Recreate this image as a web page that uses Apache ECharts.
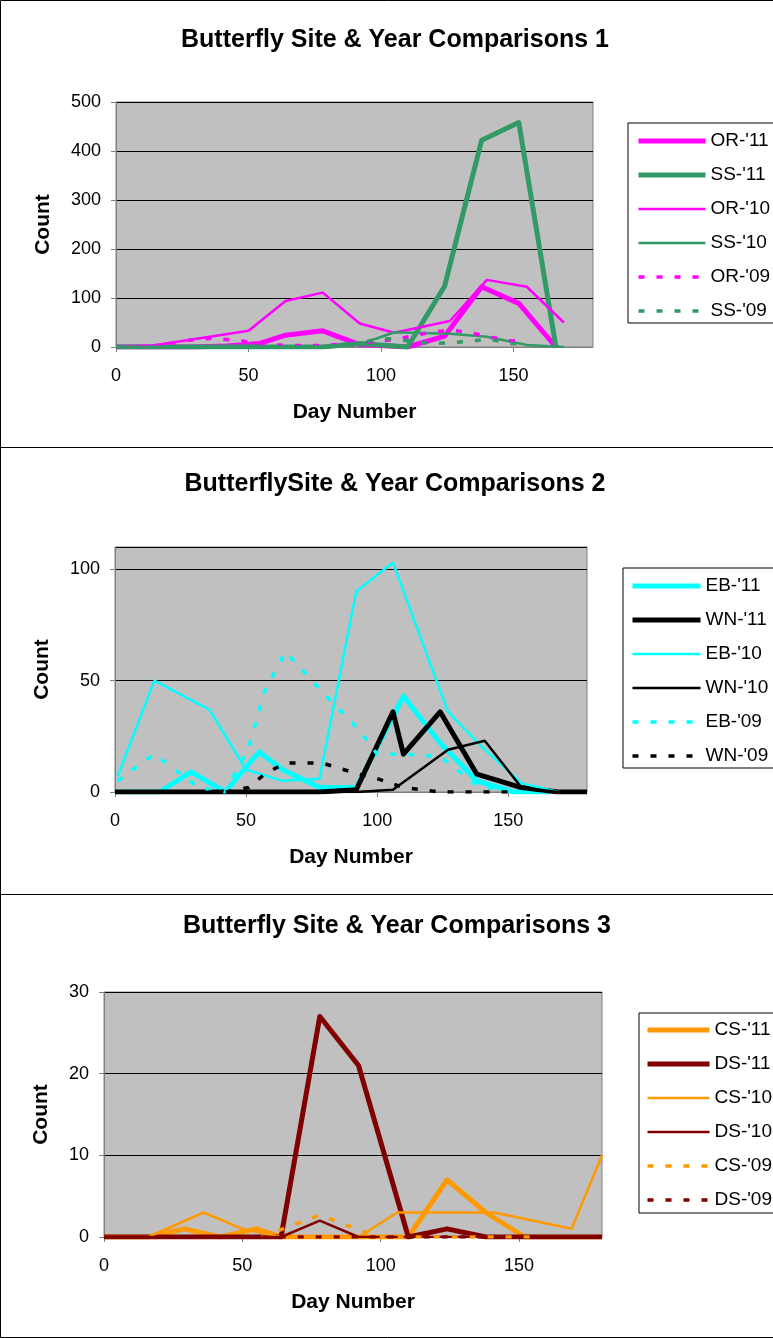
<!DOCTYPE html>
<html><head><meta charset="utf-8">
<script src="https://cdn.jsdelivr.net/npm/echarts@6/dist/echarts.min.js"></script>
<style>html,body{margin:0;padding:0;background:#fff}#c{width:773px;height:1338px}</style>
</head><body><div id="c"></div>
<script>
// ---------- Panel 1 data ----------
var p1Days11 = [0, 14, 28, 42, 54, 64, 78, 92, 110, 124, 138, 152, 166];
var p1OR11   = [0, 0, 0, 2, 7, 24, 33, 5, 0, 22, 123, 89, 0];
var p1SS11   = [0, 0, 0, 0, 0, 0, 0, 7, 0, 124, 422, 458, 0];
var p1Days10 = [0, 14, 50, 64, 78, 92, 105, 126, 140, 155, 169];
var p1OR10   = [0, 3, 33, 94, 111, 48, 29, 53, 137, 123, 50];
var p1SS10   = [0, 0, 0, 0, 0, 5, 30, 27, 21, 4, 0];
var p1Days09 = [0, 14, 28, 36, 46, 56, 64, 78, 92, 99, 106, 113, 120, 127, 134, 141, 148, 155];
var p1OR09   = [0, 2, 14, 18, 13, 6, 3, 3, 8, 12, 16, 24, 31, 34, 29, 20, 13, 11];
var p1SS09   = [0, 0, 0, 0, 0, 0, 0, 0, 8, 17, 16, 10, 7, 9, 12, 16, 8, 4];
// ---------- Panel 2 data ----------
var p2DaysEB11 = [0, 17, 29, 42, 55, 64, 78, 92, 110, 124, 138, 152, 166];
var p2EB11     = [0, 0, 9, 0, 18, 10, 2, 2, 43, 22, 5, 0, 0];
var p2DaysWN11 = [0, 17, 29, 42, 55, 64, 78, 92, 106, 110, 124, 138, 155, 169, 180];
var p2WN11     = [0, 0, 0, 0, 0, 0, 0, 1, 36, 17, 36, 8, 2, 0, 0];
var p2Days10   = [1, 15, 36, 50, 64, 78, 92, 106, 127, 141, 155, 169];
var p2EB10     = [7, 50, 37, 10, 5, 6, 90, 103, 36, 19, 4, 0];
var p2WN10     = [0, 0, 0, 0, 0, 0, 0, 1, 19, 23, 2, 0];
var p2Days09   = [1, 15, 32, 42, 51, 57, 65, 79, 93, 100, 110, 124, 138, 152];
var p2EB09     = [5, 17, 2, 0, 20, 45, 63, 45, 28, 17, 17, 16, 3, 0];
var p2WN09     = [0, 0, 0, 0, 2, 8, 13, 13, 8, 6, 2, 0, 0, 0];
// ---------- Panel 3 data ----------
var p3Days11 = [0, 16, 29, 42, 55, 64, 78, 92, 110, 124, 138, 152, 166, 180];
var p3CS11   = [0, 0, 1, 0, 1, 0, 0, 0, 0, 7, 3, 0, 0, 0];
var p3DS11   = [0, 0, 0, 0, 0, 0, 27, 21, 0, 1, 0, 0, 0, 0];
var p3Days10 = [0, 16, 36, 50, 64, 78, 92, 106, 124, 141, 169, 180];
var p3CS10   = [0, 0, 3, 1, 0, 0, 0, 3, 3, 3, 1, 10];
var p3DS10   = [0, 0, 0, 0, 0, 2, 0, 0, 0, 0, 0, 0];
var p3Days09 = [57, 78, 99, 120, 141, 155];
var p3CS09   = [0, 2.7, 0, 0, 0, 0];
var p3DS09   = [0, 0, 0, 0, 0, 0];

var titles = ["Butterfly Site & Year Comparisons 1", "ButterflySite & Year Comparisons 2", "Butterfly Site & Year Comparisons 3"];
var xTicks = [0, 50, 100, 150];

var FONT = "'Liberation Sans', Arial, sans-serif";
var MAG = '#FF00FF', GRN = '#339966', CYA = '#00FFFF', BLK = '#000000', ORG = '#FF9900', DRD = '#800000';
var STY = {
  thick: {width: 5, type: 'solid'},
  thin: {width: 2.5, type: 'solid'},
  dash: {width: 3.5, type: [6, 12]}
};
function pairs(d, v) { return d.map(function (x, i) { return [x, v[i]]; }); }
function mk(name, d, v, color, kind, gi) {
  return {
    name: name, type: 'line', xAxisIndex: gi, yAxisIndex: gi,
    data: pairs(d, v), symbol: 'none', showSymbol: false,
    lineStyle: {color: color, width: STY[kind].width, type: STY[kind].type, cap: 'butt', join: 'round'},
    itemStyle: {color: color},
    emphasis: {disabled: true}, animation: false
  };
}
var series = [
  mk("OR-'11", p1Days11, p1OR11, MAG, 'thick', 0),
  mk("SS-'11", p1Days11, p1SS11, GRN, 'thick', 0),
  mk("OR-'10", p1Days10, p1OR10, MAG, 'thin', 0),
  mk("SS-'10", p1Days10, p1SS10, GRN, 'thin', 0),
  mk("OR-'09", p1Days09, p1OR09, MAG, 'dash', 0),
  mk("SS-'09", p1Days09, p1SS09, GRN, 'dash', 0),
  mk("EB-'11", p2DaysEB11, p2EB11, CYA, 'thick', 1),
  mk("WN-'11", p2DaysWN11, p2WN11, BLK, 'thick', 1),
  mk("EB-'10", p2Days10, p2EB10, CYA, 'thin', 1),
  mk("WN-'10", p2Days10, p2WN10, BLK, 'thin', 1),
  mk("EB-'09", p2Days09, p2EB09, CYA, 'dash', 1),
  mk("WN-'09", p2Days09, p2WN09, BLK, 'dash', 1),
  mk("CS-'11", p3Days11, p3CS11, ORG, 'thick', 2),
  mk("DS-'11", p3Days11, p3DS11, DRD, 'thick', 2),
  mk("CS-'10", p3Days10, p3CS10, ORG, 'thin', 2),
  mk("DS-'10", p3Days10, p3DS10, DRD, 'thin', 2),
  mk("CS-'09", p3Days09, p3CS09, ORG, 'dash', 2),
  mk("DS-'09", p3Days09, p3DS09, DRD, 'dash', 2)
];

var grids = [
  {left: 116, top: 102, width: 477, height: 245},
  {left: 115, top: 547, width: 472, height: 245},
  {left: 104, top: 992, width: 498, height: 245}
];
var yCfg = [{max: 500, interval: 100}, {max: 110, interval: 50}, {max: 30, interval: 10}];

var option = {
  animation: false,
  backgroundColor: '#ffffff',
  grid: grids.map(function (g) {
    return Object.assign({show: true, backgroundColor: '#C0C0C0', borderColor: '#808080', borderWidth: 1, containLabel: false}, g);
  }),
  xAxis: grids.map(function (g, i) {
    return {
      type: 'value', gridIndex: i, min: 0, max: 180, interval: 50,
      name: 'Day Number', nameLocation: 'middle', nameGap: 55,
      nameTextStyle: {fontFamily: FONT, fontSize: 21, fontWeight: 'bold', color: '#000'},
      axisLine: {show: true, onZero: false, lineStyle: {color: '#808080', width: 1}},
      axisTick: {show: true, inside: false, length: 5, lineStyle: {color: '#808080'}, customValues: xTicks},
      axisLabel: {show: true, margin: 20, fontFamily: FONT, fontSize: 18, color: '#000', customValues: xTicks},
      splitLine: {show: false}
    };
  }),
  yAxis: yCfg.map(function (c, i) {
    return {
      type: 'value', gridIndex: i, min: 0, max: c.max, interval: c.interval,
      name: 'Count', nameLocation: 'middle', nameGap: i === 2 ? 52 : 62, nameRotate: 90,
      nameTextStyle: {fontFamily: FONT, fontSize: 21, fontWeight: 'bold', color: '#000'},
      axisLine: {show: true, lineStyle: {color: '#808080', width: 1}},
      axisTick: {show: true, inside: false, length: 5, lineStyle: {color: '#808080'}},
      axisLabel: {show: true, margin: 15, fontFamily: FONT, fontSize: 18, color: '#000',
        showMaxLabel: c.max % c.interval === 0},
      splitLine: {show: true, lineStyle: {color: '#000', width: 1}}
    };
  }),
  legend: [
    {left: 628, top: 123, itemWidth: 67, padding: [8, 30, 2, 8],
     names: ["OR-'11", "SS-'11", "OR-'10", "SS-'10", "OR-'09", "SS-'09"]},
    {left: 623, top: 568, itemWidth: 68, padding: [8, 30, 2, 7],
     names: ["EB-'11", "WN-'11", "EB-'10", "WN-'10", "EB-'09", "WN-'09"]},
    {left: 639, top: 1013, itemWidth: 62, padding: [7, 30, 3, 6],
     names: ["CS-'11", "DS-'11", "CS-'10", "DS-'10", "CS-'09", "DS-'09"]}
  ].map(function (l) {
    return {
      left: l.left, top: l.top, itemWidth: l.itemWidth, padding: l.padding,
      orient: 'vertical', itemHeight: 14, itemGap: 14, selectedMode: false,
      borderColor: '#000', borderWidth: 1, backgroundColor: '#fff',
      textStyle: {fontFamily: FONT, fontSize: 19, color: '#000', lineHeight: 20},
      itemStyle: {opacity: 0, borderWidth: 0},
      data: l.names.map(function (n) {
        var s = series.filter(function (x) { return x.name === n; })[0];
        return {name: n, itemStyle: {opacity: 0, borderWidth: 0},
          lineStyle: {width: s.lineStyle.width, type: s.lineStyle.type, color: s.lineStyle.color, cap: 'butt'}};
      })
    };
  }),
  graphic: [
    {type: 'rect', shape: {x: 0.5, y: 0.5, width: 900, height: 447}, style: {fill: null, stroke: '#000', lineWidth: 1}, z: -10, silent: true},
    {type: 'rect', shape: {x: 0.5, y: 447.5, width: 900, height: 447}, style: {fill: null, stroke: '#000', lineWidth: 1}, z: -10, silent: true},
    {type: 'rect', shape: {x: 0.5, y: 894.5, width: 900, height: 443}, style: {fill: null, stroke: '#000', lineWidth: 1}, z: -10, silent: true},
    {type: 'text', x: 395, y: 40, style: {text: titles[0], font: 'bold 25px ' + FONT, fill: '#000', align: 'center', verticalAlign: 'middle'}},
    {type: 'text', x: 395, y: 484, style: {text: titles[1], font: 'bold 25px ' + FONT, fill: '#000', align: 'center', verticalAlign: 'middle'}},
    {type: 'text', x: 397, y: 926, style: {text: titles[2], font: 'bold 25px ' + FONT, fill: '#000', align: 'center', verticalAlign: 'middle'}}
  ],
  series: series
};
var chart = echarts.init(document.getElementById('c'), null, {renderer: 'canvas'});
chart.setOption(option);
</script></body></html>
